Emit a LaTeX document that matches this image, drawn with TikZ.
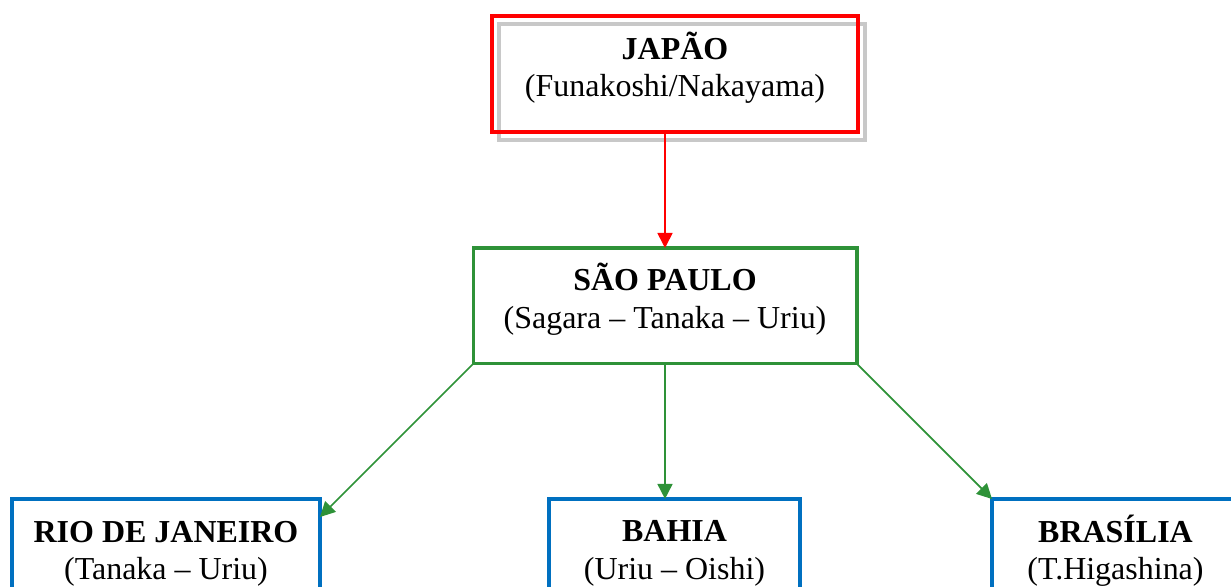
\documentclass[tikz,border=0pt]{standalone}
\usepackage{fontspec}
\setmainfont{Liberation Serif}
\usetikzlibrary{arrows.meta, positioning, backgrounds}
\definecolor{boxred}{RGB}{255,0,0}
\definecolor{boxgreen}{RGB}{46,146,56}
\definecolor{boxblue}{RGB}{0,112,192}
\definecolor{shadowgray}{RGB}{200,200,200}
% mesma altura de linha em todas as caixas
\newcommand{\topstrut}{\rule{0pt}{0.58cm}}
\newcommand{\lowstrut}{\rule[-0.42cm]{0pt}{0.42cm}}

\begin{document}
\begin{tikzpicture}[
            x=0.02cm, y=-0.02cm,
            box/.style={rectangle, line width=1.8pt, fill=none, minimum height=2.32cm, align=center, inner sep=0pt, outer sep=0pt, font=\fontsize{18.2}{21.6}\selectfont},
            arrow/.style={-{Triangle[length=0.3cm, width=0.3cm]}, line width=1pt}
        ]
        \useasboundingbox (0,0) rectangle (1231,586);
        \clip (0,0) rectangle (1231,586);

        \node[box, draw=boxred, line width=1.9pt, minimum width=7.32cm] (japao) at (675,74) {\topstrut\textbf{JAPÃO} \\ (Funakoshi/Nakayama)\lowstrut};
        \node[box, draw=boxgreen, line width=1.75pt, minimum width=7.68cm, below=2.32cm of japao, xshift=-0.2cm] (saopaulo) {\topstrut\textbf{SÃO PAULO} \\ (Sagara -- Tanaka -- Uriu)\lowstrut};

        \node[box, draw=boxblue, minimum width=6.16cm] (rio) at (166,557) {\topstrut\textbf{RIO DE JANEIRO} \\ (Tanaka -- Uriu)\lowstrut};
        \node[box, draw=boxblue, minimum width=5.02cm, below=2.7cm of saopaulo, xshift=0.19cm] (bahia) {\topstrut\textbf{BAHIA} \\ (Uriu -- Oishi)\lowstrut};
        \node[box, draw=boxblue, minimum width=4.94cm] (brasilia) at (1115.5,557) {\topstrut\textbf{BRASÍLIA} \\ (T.Higashina)\lowstrut};

        % sombra cinza atras do Japao
        \begin{scope}[on background layer]
            \draw[shadowgray, line width=2pt] ([shift={(7,8)}]japao.north west) rectangle ([shift={(7,8)}]japao.south east);
        \end{scope}

        \coordinate (rioend) at ([shift={(0,18)}]rio.north east);

        \draw[arrow, draw=boxred, fill=boxred] (saopaulo.north |- japao.south) -- (saopaulo.north);
        \draw[arrow, draw=boxgreen, fill=boxgreen] (saopaulo.south west) -- (rioend);
        \draw[arrow, draw=boxgreen, fill=boxgreen] (saopaulo.south) -- (saopaulo.south |- bahia.north);
        \draw[arrow, draw=boxgreen, fill=boxgreen] (saopaulo.south east) -- (brasilia.north west);

\end{tikzpicture}
\end{document}
